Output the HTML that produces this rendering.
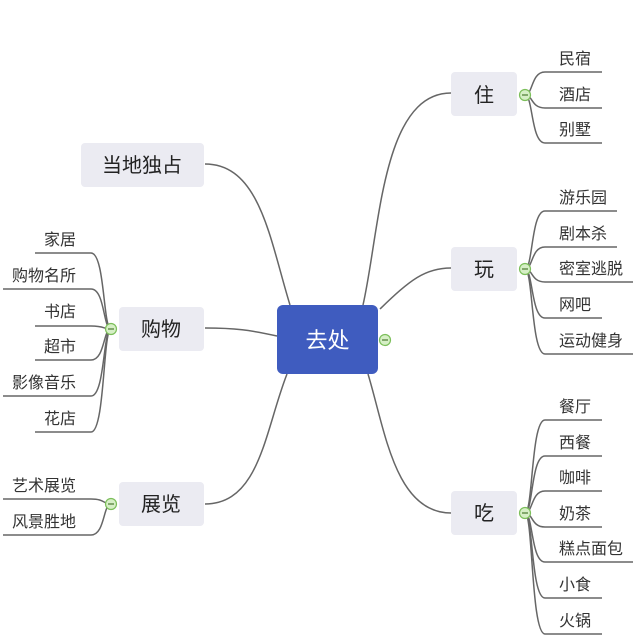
<!DOCTYPE html>
<html><head><meta charset="utf-8"><style>
html,body{margin:0;padding:0;background:#fff;}
svg text{font-family:"Liberation Sans","Noto Sans CJK SC",sans-serif;}
</style></head><body>
<svg width="640" height="638" viewBox="0 0 640 638" xmlns="http://www.w3.org/2000/svg">
<g fill="none" stroke="#666" stroke-width="1.5">
<path d="M363,305 C380,230 382,93 451,93"/>
<path d="M380,309 C410,280 425,268 451,268"/>
<path d="M368,374 C385,430 395,513 451,513"/>
<path d="M290,305 C270,240 260,164 205,164"/>
<path d="M277,336 C250,330 235,328 205,328"/>
<path d="M287,374 C265,430 260,504 205,504"/>
<path d="M525,95 C533,95 531,72 545,72 L602,72"/>
<path d="M525,95 C533,95 531,108 545,108 L602,108"/>
<path d="M525,95 C533,95 531,143 545,143 L602,143"/>
<path d="M525,269 C533,269 531,211 545,211 L617,211"/>
<path d="M525,269 C533,269 531,247 545,247 L617,247"/>
<path d="M525,269 C533,269 531,282 545,282 L633,282"/>
<path d="M525,269 C533,269 531,318 545,318 L602,318"/>
<path d="M525,269 C533,269 531,354 545,354 L633,354"/>
<path d="M525,513 C533,513 531,420 545,420 L602,420"/>
<path d="M525,513 C533,513 531,456 545,456 L602,456"/>
<path d="M525,513 C533,513 531,491 545,491 L602,491"/>
<path d="M525,513 C533,513 531,527 545,527 L602,527"/>
<path d="M525,513 C533,513 531,562 545,562 L633,562"/>
<path d="M525,513 C533,513 531,598 545,598 L602,598"/>
<path d="M525,513 C533,513 531,634 545,634 L602,634"/>
<path d="M111,329 C103,329 105,253 91,253 L35,253"/>
<path d="M111,329 C103,329 105,289 91,289 L3,289"/>
<path d="M111,329 C103,329 105,326 91,326 L35,326"/>
<path d="M111,329 C103,329 105,360 91,360 L35,360"/>
<path d="M111,329 C103,329 105,396 91,396 L3,396"/>
<path d="M111,329 C103,329 105,432 91,432 L35,432"/>
<path d="M111,504 C103,504 105,499 91,499 L3,499"/>
<path d="M111,504 C103,504 105,535 91,535 L3,535"/>
</g>
<rect x="277" y="305" width="101" height="69" rx="6" fill="#3f5cbf"/>
<text x="327.5" y="348" font-size="22" fill="#fff" text-anchor="middle">去处</text>
<g fill="#ebebf2">
<rect x="451" y="72" width="66" height="44" rx="4"/>
<rect x="451" y="247" width="66" height="44" rx="4"/>
<rect x="451" y="491" width="66" height="44" rx="4"/>
<rect x="81" y="143" width="123" height="44" rx="4"/>
<rect x="119" y="307" width="85" height="44" rx="4"/>
<rect x="119" y="482" width="85" height="44" rx="4"/>
</g>
<g font-size="20" fill="#222" text-anchor="middle">
<text x="484" y="102">住</text>
<text x="484" y="276">玩</text>
<text x="484" y="520">吃</text>
<text x="142" y="172">当地独占</text>
<text x="161" y="336">购物</text>
<text x="161" y="511">展览</text>
</g>
<g fill="#d6efc6" stroke="#7cbf5a" stroke-width="1.2">
<circle cx="385" cy="340" r="5.5"/>
<circle cx="525" cy="95" r="5.5"/>
<circle cx="525" cy="269" r="5.5"/>
<circle cx="525" cy="513" r="5.5"/>
<circle cx="111" cy="329" r="5.5"/>
<circle cx="111" cy="504" r="5.5"/>
</g>
<g stroke="#4a7a30" stroke-width="1.2">
<line x1="382" y1="340" x2="388" y2="340"/>
<line x1="522" y1="95" x2="528" y2="95"/>
<line x1="522" y1="269" x2="528" y2="269"/>
<line x1="522" y1="513" x2="528" y2="513"/>
<line x1="108" y1="329" x2="114" y2="329"/>
<line x1="108" y1="504" x2="114" y2="504"/>
</g>
<g font-size="16" fill="#333">
<text x="559" y="64">民宿</text>
<text x="559" y="100">酒店</text>
<text x="559" y="135">别墅</text>
<text x="559" y="203">游乐园</text>
<text x="559" y="239">剧本杀</text>
<text x="559" y="274">密室逃脱</text>
<text x="559" y="310">网吧</text>
<text x="559" y="346">运动健身</text>
<text x="559" y="412">餐厅</text>
<text x="559" y="448">西餐</text>
<text x="559" y="483">咖啡</text>
<text x="559" y="519">奶茶</text>
<text x="559" y="554">糕点面包</text>
<text x="559" y="590">小食</text>
<text x="559" y="626">火锅</text>
</g>
<g font-size="16" fill="#333" text-anchor="end">
<text x="76" y="245">家居</text>
<text x="76" y="281">购物名所</text>
<text x="76" y="317">书店</text>
<text x="76" y="352">超市</text>
<text x="76" y="388">影像音乐</text>
<text x="76" y="424">花店</text>
<text x="76" y="491">艺术展览</text>
<text x="76" y="527">风景胜地</text>
</g>
</svg>
</body></html>
